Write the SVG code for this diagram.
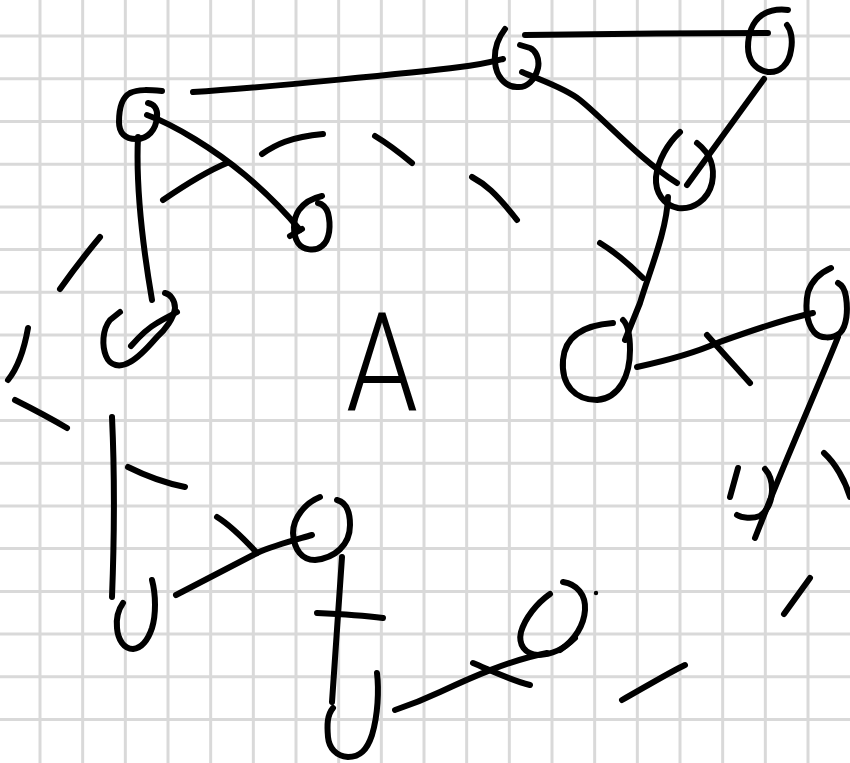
<svg xmlns="http://www.w3.org/2000/svg" width="850" height="763" viewBox="0 0 850 763">
<style>
.grid{fill:none;stroke:#d9d9d9;stroke-width:3}
.s{fill:none;stroke:#000;stroke-width:6;stroke-linecap:round;stroke-linejoin:round}
.lbl{font-family:Roboto,"Liberation Sans",sans-serif;font-weight:300;font-size:138px;fill:#000}
</style>
<rect width="850" height="763" fill="#fff"/>
<path class="grid" d="M40,0V763M82.67,0V763M125.33,0V763M168,0V763M210.67,0V763M253.33,0V763M296,0V763M338.67,0V763M381.33,0V763M424,0V763M466.67,0V763M509.33,0V763M552,0V763M594.67,0V763M637.33,0V763M680,0V763M722.67,0V763M765.33,0V763M808,0V763M0,36H850M0,78.7H850M0,121.4H850M0,164.2H850M0,206.9H850M0,249.6H850M0,292.3H850M0,335H850M0,377.8H850M0,420.5H850M0,463.2H850M0,505.9H850M0,548.6H850M0,591.4H850M0,634.1H850M0,676.8H850M0,719.5H850"/>
<g id="connectors">
<path class="s" d="M147,115 C175,125 215,150 245,175 C265,192 285,212 300,230"/>
<path class="s" d="M193,92 C260,88 420,72 460,67 C480,65 495,61 503,59"/>
<path class="s" d="M525,35 C580,34 700,33 768,33"/>
<path class="s" d="M522,72 C540,80 565,88 580,100 C605,120 640,160 677,183"/>
<path class="s" d="M764,79 L687,185"/>
<path class="s" d="M668,197 C667,230 650,270 640,303 L625,340"/>
<path class="s" d="M637,367 C660,362 690,355 717,343 C745,333 780,320 813,313"/>
<path class="s" d="M838,337 C825,370 790,450 770,500 L755,538"/>
<path class="s" d="M138,137 C136,180 140,230 152,300"/>
<path class="s" d="M112,417 C114,460 115,520 112,597"/>
<path class="s" d="M176,595 L257,553 C275,545 295,540 312,535"/>
<path class="s" d="M342,557 L332,702"/>
<path class="s" d="M395,710 C410,705 423,700 440,692 C470,678 510,660 547,653"/>
</g>
<g id="dashes">
<path class="s" d="M163,200 C185,185 205,172 227,163"/>
<path class="s" d="M262,154 C275,145 290,137 323,134"/>
<path class="s" d="M375,136 C390,145 400,153 412,163"/>
<path class="s" d="M472,177 C485,184 495,192 517,220"/>
<path class="s" d="M600,243 C615,252 630,265 643,278"/>
<path class="s" d="M707,335 L750,383"/>
<path class="s" d="M824,453 C835,463 845,480 850,497"/>
<path class="s" d="M810,578 L784,614"/>
<path class="s" d="M685,665 C670,672 640,690 622,700"/>
<path class="s" d="M473,663 C490,670 510,680 530,685"/>
<path class="s" d="M317,613 C340,614 360,615 383,618"/>
<path class="s" d="M217,517 C230,525 245,540 257,553"/>
<path class="s" d="M128,467 C140,473 160,482 185,487"/>
<path class="s" d="M15,400 C25,405 50,418 67,428"/>
<path class="s" d="M28,328 C25,345 20,365 8,380"/>
<path class="s" d="M100,237 C85,255 72,272 60,289"/>
<path class="s" d="M738,468 L730,497"/>
<path class="s" d="M765,469 C775,480 775,505 760,516 C752,519 742,518 737,515"/>
<circle cx="596" cy="593" r="2.2" fill="#000"/>
</g>
<g id="n1"><path class="s" d="M162,91 C150,90 138,89 130,93 C121,98 119,110 119,122 C119,133 125,139 136,139 C148,139 156,130 157,117 C158,109 154,104 148,103"/></g>
<g id="n2"><path class="s" d="M322,196 C313,198 304,203 299,210 C292,220 293,235 298,243 C303,250 315,252 322,246 C330,240 331,225 328,213 C326,207 322,204 318,203"/><path class="s" d="M290,236 L302,229"/></g>
<g id="n3"><path class="s" d="M505,29 C498,38 494,50 495,62 C496,76 505,87 517,87 C527,88 535,80 538,68 C540,58 535,50 530,48 L520,45"/></g>
<g id="n4"><path class="s" d="M788,10 C780,9 770,10 762,15 C752,22 748,35 748,47 C748,60 755,70 768,72 C780,73 789,64 791,50 C793,40 791,30 787,25"/></g>
<g id="n5"><path class="s" d="M680,132 C668,143 658,160 656,177 C655,192 663,205 678,208 C693,210 708,200 712,183 C715,168 712,155 697,143"/></g>
<g id="n6"><path class="s" d="M613,323 C585,325 565,335 563,360 C561,385 575,400 597,400 C620,398 630,375 630,350 C630,335 628,325 623,320"/></g>
<g id="n7"><path class="s" d="M831,268 C822,272 812,280 808,292 C805,305 806,322 814,332 C820,339 833,339 840,333 C847,326 848,310 846,297 C845,290 842,285 838,283"/></g>
<g id="n8"><path class="s" d="M165,293 C170,294 175,300 175,308 C174,318 165,330 157,337 C150,345 140,357 130,362 C120,368 110,366 106,356 C102,346 102,330 110,320 L120,312"/><path class="s" d="M131,346 C138,338 148,328 157,323 C165,318 172,315 177,312"/></g>
<g id="n9"><path class="s" d="M320,497 C305,503 293,518 293,533 C294,550 302,560 315,560 C335,558 350,545 350,525 C350,510 345,502 337,500"/></g>
<g id="n10"><path class="s" d="M152,580 C156,595 156,615 152,628 C148,640 142,648 133,649 C124,649 118,640 117,628 C116,618 118,610 123,603"/></g>
<g id="n11"><path class="s" d="M377,673 C379,690 378,715 372,735 C367,750 360,757 348,757 C336,756 329,748 328,737 C327,725 327,715 333,708"/></g>
<g id="n12"><path class="s" d="M550,594 C537,603 525,618 521,632 C518,645 525,654 538,655 C552,655 565,648 575,638"/><path class="s" d="M563,582 C577,584 586,595 585,610 C584,625 575,640 560,650"/></g>
<g id="label"><text class="lbl" x="382" y="410" text-anchor="middle" textLength="72" lengthAdjust="spacingAndGlyphs">A</text></g>
</svg>
